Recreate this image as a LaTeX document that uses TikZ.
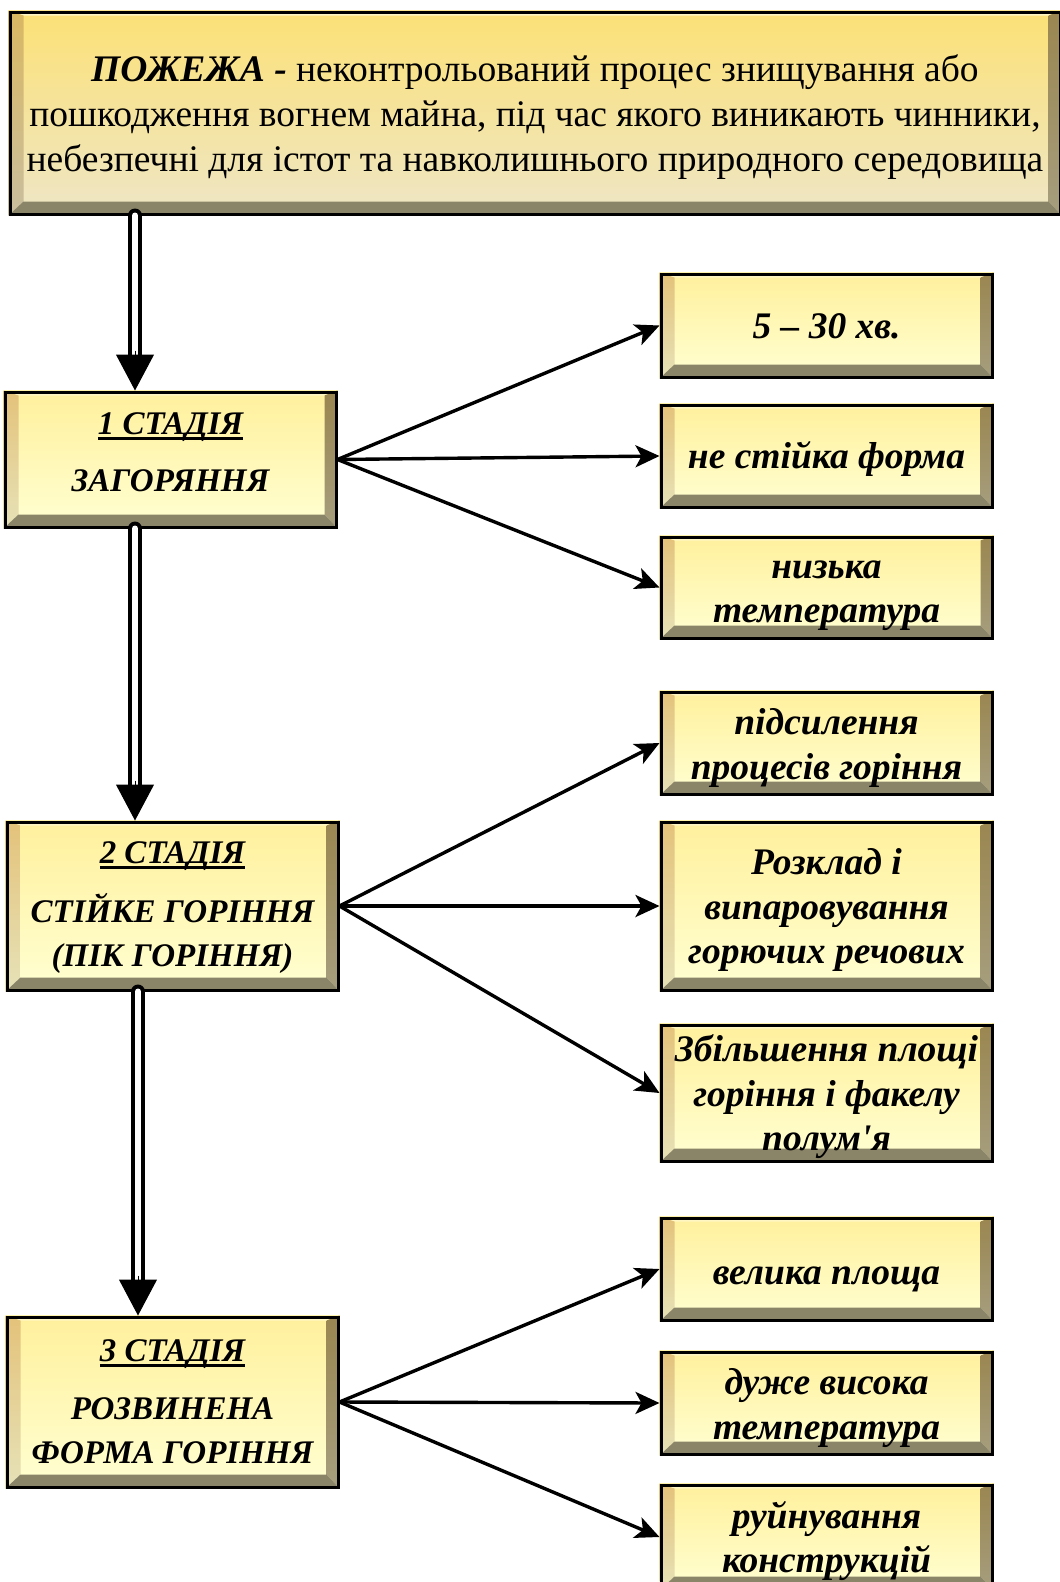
\documentclass[tikz,border=0pt]{standalone}
\usepackage{fontspec}
\setmainfont{Liberation Serif}[Ligatures=TeXOff]
\usetikzlibrary{arrows.meta,calc,backgrounds}

\definecolor{ftopA}{HTML}{FFF09C}
\definecolor{fbotA}{HTML}{FFFFD2}
\definecolor{ftopB}{HTML}{FCE176}
\definecolor{fbotB}{HTML}{EEE6C6}
\definecolor{bevT}{HTML}{FFF6C4}
\definecolor{lbT}{HTML}{E4C27A}
\definecolor{lbB}{HTML}{E6E2B8}
\definecolor{lbTB}{HTML}{D9B862}
\definecolor{lbBB}{HTML}{C9BE9E}
\definecolor{rbT}{HTML}{9A8650}
\definecolor{rbB}{HTML}{A69E7E}
\definecolor{bbC}{HTML}{8A8468}

\colorlet{ftop}{ftopA}
\colorlet{fbot}{fbotA}
\colorlet{lbt}{lbT}
\colorlet{lbb}{lbB}

\tikzset{
  bx/.style={draw=black, line width=3pt, inner sep=0pt},
  txt/.style={inner sep=0pt, align=center,
    font=\fontsize{37.5}{44.5}\selectfont\bfseries\itshape},
  stg/.style={font=\fontsize{33}{44}\selectfont\bfseries\itshape},
  conn/.style={line width=3.4pt, -{Stealth[length=24pt,width=22pt,inset=6pt]}},
  dshaft/.style={line width=4pt, double=white, double distance=6pt, line cap=round, shorten >=32pt},
  dtip/.style={-{Triangle[length=36pt,width=38pt]}, line width=1pt},
}

\newcommand\uln[1]{\setbox0\hbox{#1}\rlap{\rule[-5pt]{\wd0}{2.6pt}}\box0}

% name, text style, cx, cy, w, h, text
\newcommand\bevbox[7]{%
  \node[bx, minimum width=#5pt, minimum height=#6pt] (#1) at (#3,#4) {};
  \node[txt, #2] (#1t) at (#1.center) {#7};
  \begin{scope}[on background layer]
    \coordinate (A) at (#1.north west);
    \coordinate (B) at (#1.north east);
    \coordinate (C) at (#1.south east);
    \coordinate (D) at (#1.south west);
    \shade[top color=ftop, bottom color=fbot] (A) rectangle (C);
    \fill[bevT] (A) -- (B) -- ($(B)+(-13,5)$) -- ($(A)+(15,5)$) -- cycle;
    \shade[top color=lbt, bottom color=lbb] (A) -- ($(A)+(15,5)$) -- ($(D)+(15,-14)$) -- (D) -- cycle;
    \shade[top color=rbT, bottom color=rbB] (B) -- (C) -- ($(C)+(-13,-14)$) -- ($(B)+(-13,5)$) -- cycle;
    \fill[bbC] (D) -- (C) -- ($(C)+(-13,-14)$) -- ($(D)+(15,-14)$) -- cycle;
  \end{scope}}

\begin{document}
\begin{tikzpicture}[x=1pt,y=-1pt]
\useasboundingbox (0,0) rectangle (1060,1582);

% top box
\colorlet{ftop}{ftopB}\colorlet{fbot}{fbotB}
\colorlet{lbt}{lbTB}\colorlet{lbb}{lbBB}
\bevbox{top}{font=\fontsize{37.5}{45}\selectfont, yshift=-4pt}{535}{113}{1050}{202}{%
\textbf{\textit{ПОЖЕЖА -}} неконтрольований процес знищування або\\
пошкодження вогнем майна, під час якого виникають чинники,\\
небезпечні для істот та навколишнього природного середовища}
\colorlet{ftop}{ftopA}\colorlet{fbot}{fbotA}
\colorlet{lbt}{lbT}\colorlet{lbb}{lbB}

% stages
\bevbox{st1}{stg, yshift=7pt}{170.5}{459.5}{331}{135}{\uln{1 СТАДІЯ}\\[13pt]ЗАГОРЯННЯ}
\bevbox{st2}{stg, yshift=-2pt}{172.5}{906}{331}{168}{\uln{2 СТАДІЯ}\\[15pt]СТІЙКЕ ГОРІННЯ\\(ПІК ГОРІННЯ)}
\bevbox{st3}{stg}{172.5}{1402}{331}{170}{\uln{3 СТАДІЯ}\\[14pt]РОЗВИНЕНА\\ФОРМА ГОРІННЯ}

% right boxes
\bevbox{r1}{yshift=-1pt}{826.5}{325.5}{331}{103}{5 – 30 хв.}
\bevbox{r2}{yshift=-3pt}{826.5}{456}{331}{102}{не стійка форма}
\bevbox{r3}{yshift=-8pt}{826.5}{587.5}{331}{101}{низька\\температура}
\bevbox{r4}{yshift=-5pt}{826.5}{743}{331}{102}{підсилення\\процесів горіння}
\bevbox{r5}{yshift=-4pt}{826.5}{906}{331}{168}{Розклад і\\випаровування\\горючих речових}
\bevbox{r6}{yshift=-4pt}{826.5}{1093}{331}{136}{Збільшення площі\\горіння і факелу\\полум'я}
\bevbox{r7}{yshift=-10pt}{826.5}{1269}{331}{102}{велика площа}
\bevbox{r8}{yshift=-5pt}{826.5}{1403}{331}{102}{дуже висока\\температура}
\bevbox{r9}{yshift=-4pt}{826.5}{1537}{331}{104}{руйнування\\конструкцій}

% double arrows
\coordinate (xa) at (135,0);
\coordinate (xb) at (138,0);
\draw[dshaft] (top.south -| xa) -- (st1.north -| xa);
\draw[dtip] ($(st1.north -| xa)+(0,-40)$) -- (st1.north -| xa);
\draw[dshaft] (st1.south -| xa) -- (st2.north -| xa);
\draw[dtip] ($(st2.north -| xa)+(0,-40)$) -- (st2.north -| xa);
\draw[dshaft] (st2.south -| xb) -- (st3.north -| xb);
\draw[dtip] ($(st3.north -| xb)+(0,-40)$) -- (st3.north -| xb);

% single arrows
\foreach \t in {r1,r2,r3} \draw[conn] (st1.east) -- (\t.west);
\foreach \t in {r4,r5,r6} \draw[conn] (st2.east) -- (\t.west);
\foreach \t in {r7,r8,r9} \draw[conn] (st3.east) -- (\t.west);
\end{tikzpicture}
\end{document}
